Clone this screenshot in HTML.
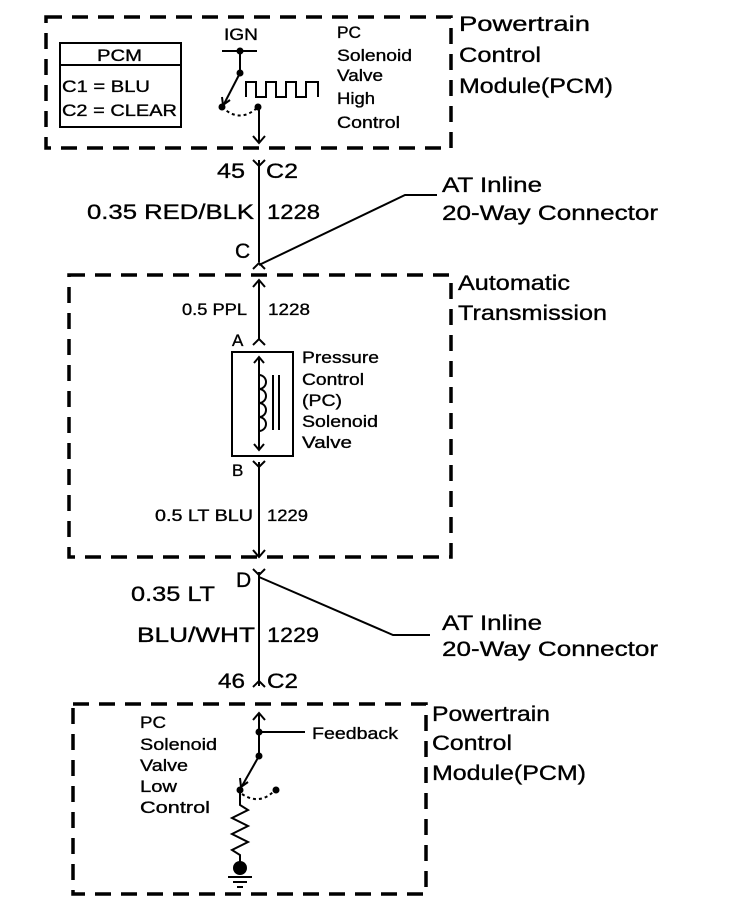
<!DOCTYPE html>
<html><head><style>html,body{margin:0;padding:0;background:#fff}svg{display:block}text{font-family:"Liberation Sans",sans-serif;fill:#000;stroke:#000;stroke-width:0.35}</style></head><body>
<svg width="736" height="920" viewBox="0 0 736 920" xmlns="http://www.w3.org/2000/svg">
<g fill="none" stroke="#000" stroke-width="3.5" stroke-dasharray="16,10">
<rect x="46" y="17" width="405" height="131"/>
<rect x="69" y="275" width="382" height="282"/>
<rect x="73" y="704" width="353" height="190"/>
</g>
<g fill="none" stroke="#000" stroke-width="2">
<rect x="60" y="43" width="121" height="84"/>
<line x1="60" y1="65" x2="181" y2="65"/>
<line x1="222" y1="51" x2="257" y2="51"/>
<line x1="240" y1="51" x2="240" y2="73"/>
<line x1="240" y1="73" x2="224" y2="104"/>
<polyline points="222,97 223,105 230,100"/>
<path d="M222,107 Q240,124 258,107" stroke-dasharray="3,3"/>
<polyline points="246,97 246,82 256,82 256,97 266,97 266,82 276,82 276,97 286,97 286,82 296,82 296,97 306,97 306,82 318,82 318,97"/>
<line x1="259" y1="107" x2="259" y2="143"/>
<polyline points="253,136 259,143 265,136"/>
<line x1="259" y1="160" x2="259" y2="262"/>
<polyline points="253,160 259,166 265,160"/>
<polyline points="253,269 259,263 265,269"/>
<polyline points="259,265 405,195 437,195"/>
<line x1="259" y1="280" x2="259" y2="340"/>
<polyline points="253,287 259,280 265,287"/>
<polyline points="253,345 259,339 265,345"/>
<rect x="232" y="352" width="61" height="104"/>
<line x1="259" y1="357" x2="259" y2="450"/>
<polyline points="254,363 259,357 264,363"/>
<polyline points="254,444 259,450 264,444"/>
<path d="M259,375 a7,7 0 0 1 0,14 a7,7 0 0 1 0,14 a7,7 0 0 1 0,14 a7,7 0 0 1 0,14"/>
<line x1="273" y1="375" x2="273" y2="430"/>
<line x1="279" y1="375" x2="279" y2="430"/>
<polyline points="253,461 259,467 265,461"/>
<line x1="259" y1="462" x2="259" y2="557"/>
<polyline points="253,550 259,557 265,550"/>
<polyline points="253,569 259,575 265,569"/>
<line x1="259" y1="572" x2="259" y2="686"/>
<polyline points="259,577 393,635 430,635"/>
<polyline points="253,687 259,681 265,687"/>
<line x1="259" y1="713" x2="259" y2="756"/>
<polyline points="253,720 259,713 265,720"/>
<line x1="259" y1="732" x2="305" y2="732"/>
<line x1="259" y1="756" x2="242" y2="786"/>
<polyline points="240,778 241,787 248,782"/>
<path d="M242,794 Q260,806 275,790" stroke-dasharray="3,3"/>
<polyline points="240,790 240,805 248,810 232,818 248,826 232,834 248,842 232,850 240,855 240,866"/>
<line x1="228" y1="877" x2="252" y2="877"/>
<line x1="233" y1="882" x2="247" y2="882"/>
<line x1="237" y1="887" x2="243" y2="887"/>
</g>
<g fill="#000">
<circle cx="240" cy="51" r="3.5"/><circle cx="240" cy="73" r="3.5"/>
<circle cx="222" cy="107" r="3.5"/><circle cx="258" cy="107" r="3.5"/>
<circle cx="259" cy="732" r="3.5"/><circle cx="259" cy="756" r="3.5"/>
<circle cx="240" cy="790" r="3.5"/><circle cx="276" cy="790" r="3.5"/>
<circle cx="240" cy="868" r="7"/>
</g>
<g font-size="17">
<text x="97" y="61" textLength="45" lengthAdjust="spacingAndGlyphs">PCM</text>
<text x="62" y="92" textLength="88" lengthAdjust="spacingAndGlyphs">C1 = BLU</text>
<text x="62" y="116" textLength="115" lengthAdjust="spacingAndGlyphs">C2 = CLEAR</text>
<text x="224" y="40" textLength="34" lengthAdjust="spacingAndGlyphs">IGN</text>
<text x="337" y="38" textLength="24" lengthAdjust="spacingAndGlyphs">PC</text>
<text x="337" y="61" textLength="75" lengthAdjust="spacingAndGlyphs">Solenoid</text>
<text x="337" y="81" textLength="46" lengthAdjust="spacingAndGlyphs">Valve</text>
<text x="337" y="104" textLength="38" lengthAdjust="spacingAndGlyphs">High</text>
<text x="337" y="128" textLength="63" lengthAdjust="spacingAndGlyphs">Control</text>
<text x="302" y="363" textLength="77" lengthAdjust="spacingAndGlyphs">Pressure</text>
<text x="302" y="385" textLength="62" lengthAdjust="spacingAndGlyphs">Control</text>
<text x="302" y="406" textLength="40" lengthAdjust="spacingAndGlyphs">(PC)</text>
<text x="302" y="427" textLength="76" lengthAdjust="spacingAndGlyphs">Solenoid</text>
<text x="302" y="448" textLength="50" lengthAdjust="spacingAndGlyphs">Valve</text>
<text x="140" y="728" textLength="26" lengthAdjust="spacingAndGlyphs">PC</text>
<text x="140" y="750" textLength="77" lengthAdjust="spacingAndGlyphs">Solenoid</text>
<text x="140" y="771" textLength="48" lengthAdjust="spacingAndGlyphs">Valve</text>
<text x="140" y="792" textLength="37" lengthAdjust="spacingAndGlyphs">Low</text>
<text x="140" y="813" textLength="70" lengthAdjust="spacingAndGlyphs">Control</text>
<text x="312" y="739" textLength="86" lengthAdjust="spacingAndGlyphs">Feedback</text>
<text x="182" y="315" textLength="65" lengthAdjust="spacingAndGlyphs">0.5 PPL</text>
<text x="268" y="315" textLength="42" lengthAdjust="spacingAndGlyphs">1228</text>
<text x="155" y="521" textLength="98" lengthAdjust="spacingAndGlyphs">0.5 LT BLU</text>
<text x="267" y="521" textLength="41" lengthAdjust="spacingAndGlyphs">1229</text>
<text x="232" y="346">A</text><text x="232" y="476">B</text>
</g>
<g font-size="21">
<text x="459" y="31" textLength="131" lengthAdjust="spacingAndGlyphs">Powertrain</text>
<text x="459" y="62" textLength="82" lengthAdjust="spacingAndGlyphs">Control</text>
<text x="459" y="93" textLength="154" lengthAdjust="spacingAndGlyphs">Module(PCM)</text>
<text x="217" y="178" textLength="28" lengthAdjust="spacingAndGlyphs">45</text>
<text x="266" y="178" textLength="32" lengthAdjust="spacingAndGlyphs">C2</text>
<text x="87" y="219" textLength="167" lengthAdjust="spacingAndGlyphs">0.35 RED/BLK</text>
<text x="267" y="219" textLength="53" lengthAdjust="spacingAndGlyphs">1228</text>
<text x="235" y="258">C</text>
<text x="442" y="192" textLength="100" lengthAdjust="spacingAndGlyphs">AT Inline</text>
<text x="442" y="220" textLength="216" lengthAdjust="spacingAndGlyphs">20-Way Connector</text>
<text x="458" y="290" textLength="112" lengthAdjust="spacingAndGlyphs">Automatic</text>
<text x="458" y="320" textLength="149" lengthAdjust="spacingAndGlyphs">Transmission</text>
<text x="236" y="587">D</text>
<text x="131" y="601" textLength="84" lengthAdjust="spacingAndGlyphs">0.35 LT</text>
<text x="137" y="642" textLength="118" lengthAdjust="spacingAndGlyphs">BLU/WHT</text>
<text x="267" y="642" textLength="52" lengthAdjust="spacingAndGlyphs">1229</text>
<text x="442" y="630" textLength="100" lengthAdjust="spacingAndGlyphs">AT Inline</text>
<text x="442" y="656" textLength="216" lengthAdjust="spacingAndGlyphs">20-Way Connector</text>
<text x="218" y="688" textLength="27" lengthAdjust="spacingAndGlyphs">46</text>
<text x="267" y="688" textLength="31" lengthAdjust="spacingAndGlyphs">C2</text>
<text x="432" y="721" textLength="118" lengthAdjust="spacingAndGlyphs">Powertrain</text>
<text x="432" y="750" textLength="80" lengthAdjust="spacingAndGlyphs">Control</text>
<text x="432" y="780" textLength="154" lengthAdjust="spacingAndGlyphs">Module(PCM)</text>
</g>
</svg>
</body></html>
